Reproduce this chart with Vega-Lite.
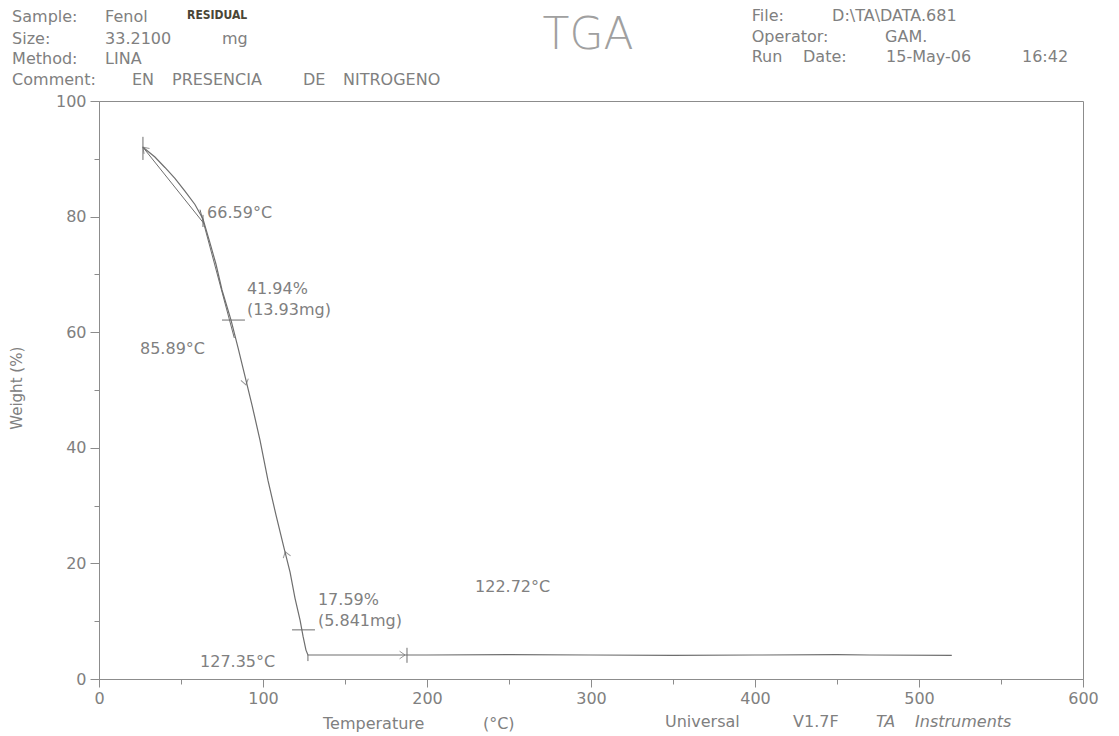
{
  "$schema": "https://vega.github.io/schema/vega-lite/v6.json",
  "width": 984,
  "height": 578,
  "autosize": "none",
  "padding": {"left": 99, "top": 101, "right": 36, "bottom": 57},
  "background": "white",
  "config": {
    "view": {"stroke": "#8c8c8c", "strokeWidth": 1},
    "text": {"font": "DejaVu Sans", "fontSize": 16, "color": "#808080", "align": "left", "baseline": "middle"}
  },
  "encoding": {
    "x": {
      "field": "t", "type": "quantitative",
      "scale": {"domain": [0, 600], "nice": false, "zero": false},
      "axis": {
        "values": [0, 50, 100, 150, 200, 250, 300, 350, 400, 450, 500, 550, 600],
        "title": null, "grid": false,
        "domainColor": "#8c8c8c", "tickColor": "#8c8c8c",
        "tickSize": {"condition": {"test": "datum.value % 100 === 0", "value": 8}, "value": 5},
        "labelExpr": "datum.value % 100 === 0 ? datum.label : ''",
        "labelFont": "DejaVu Sans", "labelFontSize": 16, "labelColor": "#808080",
        "labelPadding": 3, "labelFlush": false, "labelOverlap": false
      }
    },
    "y": {
      "field": "w", "type": "quantitative",
      "scale": {"domain": [0, 100], "nice": false, "zero": false},
      "axis": {
        "values": [0, 10, 20, 30, 40, 50, 60, 70, 80, 90, 100],
        "title": null, "grid": false,
        "domainColor": "#8c8c8c", "tickColor": "#8c8c8c",
        "tickSize": {"condition": {"test": "datum.value % 20 === 0", "value": 9}, "value": 5},
        "labelExpr": "datum.value % 20 === 0 ? datum.label : ''",
        "labelFont": "DejaVu Sans", "labelFontSize": 16, "labelColor": "#808080",
        "labelPadding": 4, "labelFlush": false, "labelOverlap": false
      }
    }
  },
  "layer": [
    {
      "data": {"values": [
        {"t": 26.8, "w": 92.0}, {"t": 34.1, "w": 90.3}, {"t": 40.2, "w": 88.5}, {"t": 46.3, "w": 86.6},
        {"t": 52.4, "w": 84.4}, {"t": 58.5, "w": 82.1}, {"t": 63.4, "w": 79.6}, {"t": 67.7, "w": 75.4},
        {"t": 71.3, "w": 71.8}, {"t": 75.0, "w": 67.3}, {"t": 80.5, "w": 62.1}, {"t": 84.8, "w": 57.3},
        {"t": 89.6, "w": 51.7}, {"t": 93.3, "w": 47.4}, {"t": 98.2, "w": 41.3}, {"t": 103.0, "w": 34.4},
        {"t": 107.9, "w": 28.4}, {"t": 112.8, "w": 22.7}, {"t": 116.5, "w": 18.5}, {"t": 119.5, "w": 14.0},
        {"t": 122.6, "w": 10.2}, {"t": 124.4, "w": 7.4}, {"t": 126.2, "w": 5.0}, {"t": 127.4, "w": 4.15},
        {"t": 150, "w": 4.15}, {"t": 200, "w": 4.15}, {"t": 250, "w": 4.2}, {"t": 300, "w": 4.15},
        {"t": 350, "w": 4.1}, {"t": 400, "w": 4.15}, {"t": 450, "w": 4.2}, {"t": 470, "w": 4.15},
        {"t": 520, "w": 4.1}
      ]},
      "mark": {"type": "line", "color": "#6e6e6e", "strokeWidth": 1.2}
    },
    {
      "data": {"values": [
        {"t": 26.8, "w": 92.0, "t2": 64.0, "w2": 78.8},
        {"t": 61.6, "w": 81.2, "t2": 82.5, "w2": 59.0},
        {"t": 26.8, "w": 93.8, "t2": 26.8, "w2": 89.8},
        {"t": 63.4, "w": 80.3, "t2": 63.4, "w2": 78.2},
        {"t": 75.0, "w": 62.1, "t2": 89.0, "w2": 62.1},
        {"t": 117.7, "w": 8.5, "t2": 131.7, "w2": 8.5},
        {"t": 127.4, "w": 4.2, "t2": 127.4, "w2": 3.1},
        {"t": 187.8, "w": 5.4, "t2": 187.8, "w2": 2.8}
      ]},
      "mark": {"type": "rule", "color": "#6e6e6e", "strokeWidth": 1},
      "encoding": {"x2": {"field": "t2"}, "y2": {"field": "w2"}}
    },
    {
      "data": {"values": [{"t": 26.8, "w": 92.0}]},
      "mark": {"type": "point", "shape": "M -1 -0.7 L 0 0 L -1 0.7", "filled": false, "stroke": "#6e6e6e", "strokeWidth": 1, "size": 120, "angle": 225}
    },
    {
      "data": {"values": [{"t": 89.6, "w": 50.9}]},
      "mark": {"type": "point", "shape": "M -1 -0.7 L 0 0 L -1 0.7", "filled": false, "stroke": "#6e6e6e", "strokeWidth": 1, "size": 120, "angle": 76}
    },
    {
      "data": {"values": [{"t": 113.6, "w": 22.0}]},
      "mark": {"type": "point", "shape": "M -1 -0.7 L 0 0 L -1 0.7", "filled": false, "stroke": "#6e6e6e", "strokeWidth": 1, "size": 120, "angle": 253}
    },
    {
      "data": {"values": [{"t": 186.6, "w": 4.15}]},
      "mark": {"type": "point", "shape": "M -1 -0.7 L 0 0 L -1 0.7", "filled": false, "stroke": "#6e6e6e", "strokeWidth": 1, "size": 120, "angle": 0}
    },
    {
      "data": {"values": [
        {"t": 65.9, "w": 80.6, "label": "66.59°C"},
        {"t": 90.2, "w": 67.5, "label": "41.94%"},
        {"t": 90.2, "w": 63.8, "label": "(13.93mg)"},
        {"t": 25.0, "w": 57.1, "label": "85.89°C"},
        {"t": 133.5, "w": 13.7, "label": "17.59%"},
        {"t": 133.5, "w": 10.0, "label": "(5.841mg)"},
        {"t": 61.6, "w": 2.9, "label": "127.35°C"},
        {"t": 229.3, "w": 15.9, "label": "122.72°C"},
        {"t": -53.0, "w": 114.5, "label": "Sample:"},
        {"t": 3.7, "w": 114.5, "label": "Fenol"},
        {"t": -53.0, "w": 110.7, "label": "Size:"},
        {"t": 3.7, "w": 110.7, "label": "33.2100"},
        {"t": 75.0, "w": 110.7, "label": "mg"},
        {"t": -53.0, "w": 107.3, "label": "Method:"},
        {"t": 3.7, "w": 107.3, "label": "LINA"},
        {"t": -53.0, "w": 103.6, "label": "Comment:"},
        {"t": 20.1, "w": 103.6, "label": "EN"},
        {"t": 44.5, "w": 103.6, "label": "PRESENCIA"},
        {"t": 124.4, "w": 103.6, "label": "DE"},
        {"t": 148.8, "w": 103.6, "label": "NITROGENO"},
        {"t": 398.0, "w": 114.7, "label": "File:"},
        {"t": 447.0, "w": 114.7, "label": "D:\\TA\\DATA.681"},
        {"t": 398.0, "w": 111.1, "label": "Operator:"},
        {"t": 479.3, "w": 111.1, "label": "GAM."},
        {"t": 398.0, "w": 107.6, "label": "Run"},
        {"t": 429.3, "w": 107.6, "label": "Date:"},
        {"t": 479.9, "w": 107.6, "label": "15-May-06"},
        {"t": 562.8, "w": 107.6, "label": "16:42"},
        {"t": 136.6, "w": -7.8, "label": "Temperature"},
        {"t": 234.1, "w": -7.8, "label": "(°C)"},
        {"t": 345.1, "w": -7.4, "label": "Universal"},
        {"t": 423.2, "w": -7.4, "label": "V1.7F"}
      ]},
      "mark": {"type": "text"},
      "encoding": {"text": {"field": "label"}}
    },
    {
      "data": {"values": [
        {"t": 473.8, "w": -7.4, "label": "TA"},
        {"t": 497.6, "w": -7.4, "label": "Instruments"}
      ]},
      "mark": {"type": "text", "fontStyle": "italic"},
      "encoding": {"text": {"field": "label"}}
    },
    {
      "data": {"values": [{"t": -50.0, "w": 50.3, "label": "Weight (%)"}]},
      "mark": {"type": "text", "angle": 270, "align": "center", "fontSize": 15},
      "encoding": {"text": {"field": "label"}}
    },
    {
      "data": {"values": [{"t": 298.2, "w": 111.2, "label": "TGA"}]},
      "mark": {"type": "text", "align": "center", "fontSize": 44, "fontWeight": 200, "color": "#a0a0a0"},
      "encoding": {"text": {"field": "label"}}
    },
    {
      "data": {"values": [{"t": 53.7, "w": 114.8, "label": "RESIDUAL"}]},
      "mark": {"type": "text", "font": "DejaVu Sans Condensed, Roboto, sans-serif", "fontWeight": "bold", "fontSize": 12, "color": "#4a4636"},
      "encoding": {"text": {"field": "label"}}
    }
  ]
}
